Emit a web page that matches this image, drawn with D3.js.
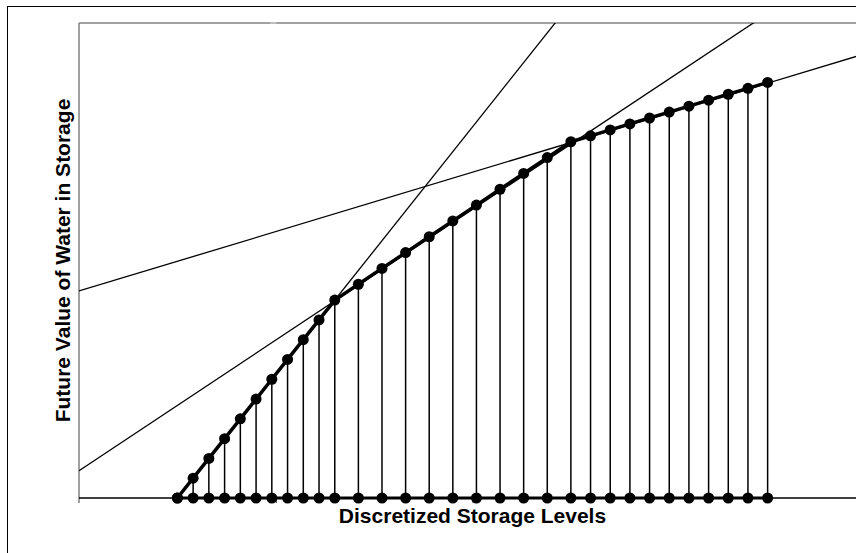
<!DOCTYPE html>
<html>
<head>
<meta charset="utf-8">
<script src="https://cdn.jsdelivr.net/npm/d3@7/dist/d3.min.js"></script>
<style>
  html, body { margin: 0; padding: 0; background: #fff; }
  svg { display: block; }
</style>
</head>
<body>
<svg id="chart" width="856" height="553"></svg>
<script>
// Discretized storage levels (x) and the future value of water held at each level (y)
const storageLevels = [12.5, 14.5, 16.5, 18.5, 20.5, 22.5, 24.5, 26.5, 28.5, 30.5, 32.5,
                       35.5, 38.5, 41.5, 44.5, 47.5, 50.5, 53.5, 56.5, 59.5, 62.5,
                       65, 67.5, 70, 72.5, 75, 77.5, 80, 82.5, 85, 87.5];
const futureValue   = [0, 5, 10, 15, 20, 25, 30, 35, 40, 45, 50,
                       54, 58, 62, 66, 70, 74, 78, 82, 86, 90,
                       91.5, 93, 94.5, 96, 97.5, 99, 100.5, 102, 103.5, 105];

// Supporting lines (value = intercept + slope * storage)
const tangentIntercepts = [52.3, 6.9, -31.25];
const tangentSlopes     = [0.6, 1.32, 2.5];

const xTicks = [0, 25, 50, 75, 100];
const xDomain = [0, 100];
const yDomain = [0, 120];

const xTitle = "Discretized Storage Levels";
const yTitle = "Future Value of Water in Storage";

const svg = d3.select("#chart");
const plot = { left: 79, top: 23, right: 866, bottom: 498 };

const x = d3.scaleLinear().domain(xDomain).range([plot.left, plot.right]);
const y = d3.scaleLinear().domain(yDomain).range([plot.bottom, plot.top]);

// chart frame
svg.append("rect")
  .attr("x", 7.5).attr("y", 6.5)
  .attr("width", 940).attr("height", 640)
  .attr("fill", "#fff").attr("stroke", "#000").attr("stroke-width", 1);

svg.append("defs").append("clipPath").attr("id", "plotClip")
  .append("rect")
  .attr("x", plot.left).attr("y", plot.top)
  .attr("width", plot.right - plot.left).attr("height", plot.bottom - plot.top);

// plot-area border (top and left visible)
svg.append("line")
  .attr("x1", plot.left).attr("x2", plot.right + 20)
  .attr("y1", plot.top).attr("y2", plot.top)
  .attr("stroke", "#808080").attr("stroke-width", 1.5);
svg.append("line")
  .attr("x1", 270).attr("x2", 276.5)
  .attr("y1", plot.top).attr("y2", plot.top)
  .attr("stroke", "#c8c8c8").attr("stroke-width", 1.5);
svg.append("line")
  .attr("x1", plot.left).attr("x2", plot.left)
  .attr("y1", plot.top).attr("y2", plot.bottom + 5)
  .attr("stroke", "#808080").attr("stroke-width", 1.5);

// x axis with downward ticks, no labels
const xAxis = d3.axisBottom(x).tickValues(xTicks).tickSize(5).tickFormat("");
const gx = svg.append("g")
  .attr("transform", `translate(0,${plot.bottom})`)
  .call(xAxis);
gx.select(".domain").remove();
gx.selectAll(".tick line").attr("stroke", "#333").attr("stroke-width", 1);
gx.selectAll(".tick").filter(d => d === 0).remove();
svg.append("line")
  .attr("x1", plot.left).attr("x2", plot.right)
  .attr("y1", plot.bottom).attr("y2", plot.bottom)
  .attr("stroke", "#000").attr("stroke-width", 1.5);

const g = svg.append("g").attr("clip-path", "url(#plotClip)");

// supporting lines
const lineGen = d3.line().x(d => x(d[0])).y(d => y(d[1]));
tangentIntercepts.forEach((a, i) => {
  const b = tangentSlopes[i];
  g.append("path")
    .datum(xDomain.map(v => [v, a + b * v]))
    .attr("d", lineGen)
    .attr("fill", "none").attr("stroke", "#000").attr("stroke-width", 1.3);
});

const pts = storageLevels.map((s, i) => ({ s, v: futureValue[i] }));

// drop lines from each level to the axis
svg.append("g").selectAll("line")
  .data(pts).join("line")
  .attr("x1", d => x(d.s)).attr("x2", d => x(d.s))
  .attr("y1", d => y(d.v)).attr("y2", y(0))
  .attr("stroke", "#000").attr("stroke-width", 1.5);

// levels along the axis
svg.append("path")
  .datum(pts)
  .attr("d", d3.line().x(d => x(d.s)).y(() => y(0)))
  .attr("fill", "none").attr("stroke", "#000").attr("stroke-width", 3);

// value curve
svg.append("path")
  .datum(pts)
  .attr("d", d3.line().x(d => x(d.s)).y(d => y(d.v)))
  .attr("fill", "none").attr("stroke", "#000").attr("stroke-width", 3.5)
  .attr("stroke-linejoin", "round");

svg.append("g").selectAll("circle")
  .data(pts).join("circle")
  .attr("cx", d => x(d.s)).attr("cy", y(0)).attr("r", 5.5).attr("fill", "#000");
svg.append("g").selectAll("circle")
  .data(pts).join("circle")
  .attr("cx", d => x(d.s)).attr("cy", d => y(d.v)).attr("r", 5.5).attr("fill", "#000");

// axis titles
svg.append("text")
  .attr("x", (plot.left + plot.right) / 2).attr("y", 523)
  .attr("text-anchor", "middle")
  .attr("font-family", "'Liberation Sans', Arial, sans-serif")
  .attr("font-weight", "bold").attr("font-size", 21)
  .text(xTitle);

svg.append("text")
  .attr("transform", `translate(70,${(plot.top + plot.bottom) / 2}) rotate(-90)`)
  .attr("text-anchor", "middle")
  .attr("font-family", "'Liberation Sans', Arial, sans-serif")
  .attr("font-weight", "bold").attr("font-size", 21)
  .text(yTitle);
</script>
</body>
</html>
